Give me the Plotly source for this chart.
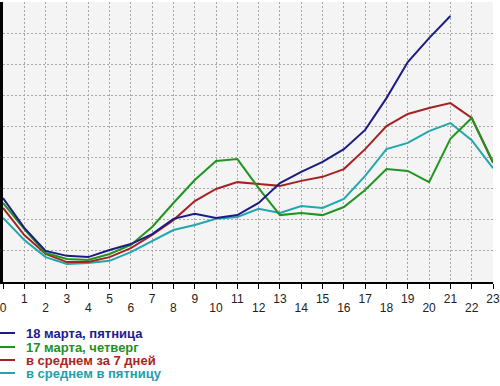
import plotly.graph_objects as go

hours = list(range(24))
hour_labels = [str(h) for h in hours]

names = ["18 марта, пятница", "17 марта, четверг", "в среднем за 7 дней", "в среднем в пятницу"]
colors = ["#1c1c84", "#1f951f", "#a52222", "#22a6ae"]
text_colors = ["#1c1c8c", "#1f8f1f", "#b02222", "#22a0aa"]

# values in grid units (one horizontal grid step = 1)
mar18 = [2.70, 1.74, 1.00, 0.84, 0.80, 1.03, 1.22, 1.54, 2.03, 2.19, 2.06, 2.15,
         2.54, 3.18, 3.54, 3.86, 4.27, 4.89, 5.91, 7.07, 7.84, 8.55]
mar17 = [2.54, 1.70, 0.93, 0.74, 0.71, 0.90, 1.19, 1.77, 2.54, 3.28, 3.89, 3.95,
         3.02, 2.15, 2.22, 2.15, 2.41, 2.96, 3.63, 3.57, 3.21, 4.60, 5.27, 3.86]
avg7 = [2.38, 1.51, 0.90, 0.64, 0.64, 0.80, 1.09, 1.51, 1.99, 2.60, 2.99, 3.21,
        3.15, 3.09, 3.25, 3.38, 3.63, 4.27, 5.01, 5.40, 5.59, 5.75, 5.27, 3.83]
avgfri = [2.06, 1.35, 0.80, 0.58, 0.61, 0.68, 0.96, 1.32, 1.67, 1.83, 2.03, 2.09,
          2.35, 2.22, 2.44, 2.38, 2.67, 3.41, 4.27, 4.47, 4.85, 5.11, 4.56, 3.66]

series = [mar18, mar17, avg7, avgfri]

fig = go.Figure()
for idx in [3, 2, 1, 0]:
    vals = series[idx]
    fig.add_trace(go.Scatter(
        x=hours[:len(vals)], y=vals, mode="lines", name=names[idx],
        line=dict(color=colors[idx], width=2), showlegend=False,
        hoverinfo="skip"))

# dummy trace to drive the second (even-label) x axis
fig.add_trace(go.Scatter(x=[0, 23], y=[None, None], xaxis="x2", showlegend=False,
                         mode="lines", hoverinfo="skip"))

odd_text = [l if h % 2 == 1 else "" for h, l in zip(hours, hour_labels)]
even_vals = [h for h in hours if h % 2 == 0]
even_text = [hour_labels[h] for h in even_vals]

grid_dash = "2px,2px"
grid_color = "#a8a8a8"

fig.update_layout(
    width=500, height=386,
    margin=dict(l=3, r=7, t=2, b=104, autoexpand=False),
    paper_bgcolor="white", plot_bgcolor="#f4f4f4",
    font=dict(family="Liberation Sans, Arial", size=12, color="#222222"),
    xaxis=dict(range=[0, 23], tickvals=hours, ticktext=odd_text,
               showgrid=True, gridcolor=grid_color, griddash=grid_dash, gridwidth=1,
               zeroline=False, showline=True, linecolor="black", linewidth=2,
               ticks="outside", ticklen=5, tickcolor="black", tickwidth=1,
               tickfont=dict(size=12, color="#222222"), mirror=False,
               automargin=False, ticklabeloverflow="allow"),
    xaxis2=dict(range=[0, 23], overlaying="x", side="bottom", tickvals=even_vals,
                ticktext=even_text, showgrid=False, zeroline=False, showline=False,
                ticks="", ticklabelstandoff=17, automargin=False,
                ticklabeloverflow="allow",
                tickfont=dict(size=12, color="#222222")),
    yaxis=dict(range=[0, 9], dtick=1, showticklabels=False,
               showgrid=True, gridcolor=grid_color, griddash=grid_dash, gridwidth=1,
               zeroline=False, showline=True, linecolor="black", linewidth=3,
               ticks="", automargin=False),
)

# custom legend
legend_y = [333, 347, 360, 373]
for i in range(4):
    ypap = (386 - 104 - legend_y[i]) / (386 - 104 - 2)
    fig.add_shape(type="line", xref="paper", yref="paper",
                  x0=-3 / 490, x1=12 / 490, y0=ypap, y1=ypap,
                  line=dict(color=colors[i], width=2))
    fig.add_annotation(xref="paper", yref="paper", x=21 / 490, y=ypap,
                       xanchor="left", yanchor="middle", showarrow=False,
                       text="<b>" + names[i] + "</b>",
                       font=dict(size=13, color=text_colors[i],
                                 family="Liberation Sans, Arial"))

fig.write_html("out.html", config={"displayModeBar": False},
               post_script="document.body.style.margin='0';document.body.style.padding='0';")
